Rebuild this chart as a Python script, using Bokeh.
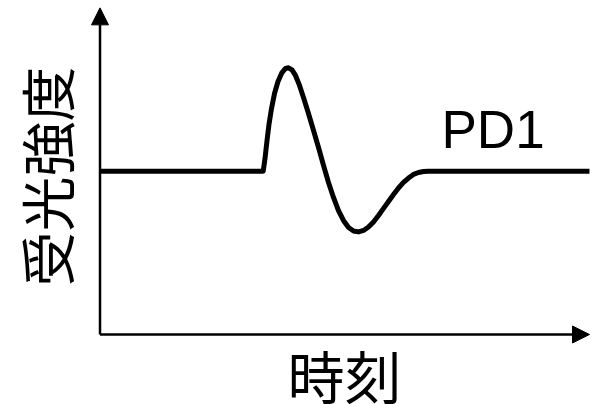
from bokeh.plotting import figure
from bokeh.models import Range1d, Arrow, NormalHead, Label, ColumnDataSource
from bokeh.embed import file_html
from bokeh.resources import INLINE

# Time (arbitrary units) and received light intensity (PD1)
time = [0.0, 33.34, 33.71, 34.12, 34.52, 35.04, 35.65, 36.36, 37.18, 37.90,
        38.51, 39.22, 39.94, 40.76, 41.57, 42.59, 43.62, 44.64, 45.66, 46.68,
        47.70, 48.72, 49.74, 50.77, 51.79, 52.81, 53.83, 54.85, 55.87, 56.89,
        57.92, 58.94, 59.96, 60.98, 62.00, 63.02, 64.04, 65.07, 66.09, 67.11,
        100.0]
intensity = [1.000, 1.000, 1.078, 1.188, 1.286, 1.384, 1.476, 1.549, 1.604, 1.629,
             1.633, 1.620, 1.586, 1.525, 1.451, 1.353, 1.249, 1.145, 1.035, 0.931,
             0.839, 0.759, 0.698, 0.655, 0.634, 0.628, 0.637, 0.658, 0.689, 0.729,
             0.772, 0.814, 0.857, 0.897, 0.931, 0.958, 0.980, 0.992, 0.998, 1.000,
             1.000]

x_max = 100.0     # end of time axis
y_max = 2.00      # end of intensity axis
series_label = "PD1"
x_title = "時刻"
y_title = "受光強度"

W, H = 598, 404
p = figure(width=W, height=H, output_backend="svg", toolbar_location=None,
           x_range=Range1d(-20.33, 101.84), y_range=Range1d(-0.4287, 2.045),
           min_border=0, min_border_left=0, min_border_right=0,
           min_border_top=0, min_border_bottom=0)
p.axis.visible = False
p.grid.visible = False
p.outline_line_color = None
p.background_fill_color = "white"
p.border_fill_color = "white"

src = ColumnDataSource(dict(t=time, i=intensity))
p.line("t", "i", source=src, line_width=5, line_color="black",
       line_join="round", line_cap="butt")

# Axes with arrow heads
p.add_layout(Arrow(x_start=0, y_start=0, x_end=x_max, y_end=0,
                   line_width=2.5, line_color="black",
                   end=NormalHead(size=17, fill_color="black", line_color="black", line_width=1)))
p.add_layout(Arrow(x_start=0, y_start=0, x_end=0, y_end=y_max,
                   line_width=2.5, line_color="black",
                   end=NormalHead(size=17, fill_color="black", line_color="black", line_width=1)))

p.add_layout(Label(x=441, y=275, x_units="screen", y_units="screen", text=series_label,
                   text_font="Liberation Sans", text_font_size="53px",
                   text_color="black", text_baseline="alphabetic", text_align="left"))
p.add_layout(Label(x=344, y=31, x_units="screen", y_units="screen", text=x_title,
                   text_font="Noto Sans CJK JP", text_font_size="57px",
                   text_color="black", text_baseline="middle", text_align="center"))
p.add_layout(Label(x=44, y=228, x_units="screen", y_units="screen", text=y_title,
                   angle=1.5707963, text_font="Noto Sans CJK JP", text_font_size="55px",
                   text_color="black", text_baseline="middle", text_align="center"))

open("out.html", "w").write(file_html(p, INLINE))
